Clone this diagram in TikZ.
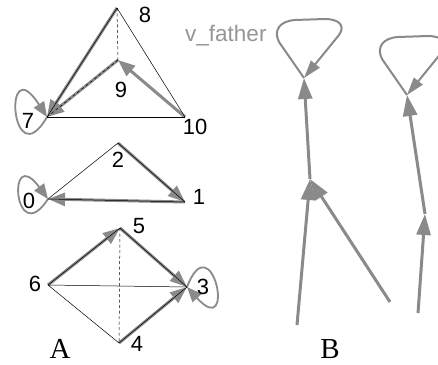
\documentclass[tikz,border=0pt]{standalone}
\usepackage{fontspec}
\setmainfont{Liberation Serif}
\newfontfamily\labfont{Liberation Sans}
\usetikzlibrary{arrows.meta}
\definecolor{eg}{RGB}{138,138,138}
\definecolor{vf}{RGB}{150,150,150}
\begin{document}
\begin{tikzpicture}[x=1pt,y=-1pt,
  lbl/.style={font=\labfont\fontsize{22}{22}\selectfont, inner sep=0pt},
  big/.style={font=\fontsize{29}{29}\selectfont, inner sep=0pt, anchor=base},
  thinedge/.style={draw=black, line width=0.5pt},
  dashedge/.style={draw=black, line width=0.5pt, dash pattern=on 3pt off 2.5pt},
  fa/.style={draw=eg, line width=3pt, -{Triangle[length=17pt,width=13pt]}},
  loopa/.style={draw=eg, line width=1.8pt, -{Triangle[length=15pt,width=12pt]}},
  fb/.style={draw=eg, line width=3pt, -{Triangle[length=21pt,width=14pt]}},
  loopb/.style={draw=eg, line width=2pt, -{Triangle[length=18pt,width=11pt]}},
]
\useasboundingbox (0,0) rectangle (438,364);
\clip (0,0) rectangle (438,364);
\fill[white] (0,0) rectangle (438,364);

% ---- part A vertices
\coordinate (v8) at (117,8);
\coordinate (v9) at (118,60);
\coordinate (v7) at (47,117);
\coordinate (v10) at (185,117);
\coordinate (v2) at (118,143);
\coordinate (v0) at (48,199);
\coordinate (v1) at (185,202);
\coordinate (v5) at (120,228);
\coordinate (v6) at (48,285);
\coordinate (v3) at (187,287);
\coordinate (v4) at (119,343);

% gray father arrows
\draw[fa] (v8) -- (v7);
\draw[fa] (v9) -- (v7);
\draw[fa] (v10) -- (v9);
\draw[loopa] (v7) .. controls +(-36,62) and +(-45,-70) .. (v7);

\draw[fa] (v2) -- (v1);
\draw[fa] (v1) -- (v0);
\draw[loopa] (v0) .. controls +(-34,52) and +(-42,-57) .. (v0);

\draw[fa] (v6) -- (v5);
\draw[fa] (v5) -- (v3);
\draw[fa] (v4) -- (v3);
\draw[loopa] (v3) .. controls +(25,-65) and +(50,55) .. (v3);

% graph edges
\draw[thinedge] (v8) -- (v7);
\draw[thinedge] (v8) -- (v10);
\draw[thinedge] (v7) -- (v10);
\draw[dashedge] (v8) -- (v9);
\draw[dashedge] (v9) -- (v7);

\draw[thinedge] (v2) -- (v0);
\draw[thinedge] (v2) -- (v1);
\draw[thinedge] (v1) -- (v0);

\draw[thinedge] (v6) -- (v5);
\draw[thinedge] (v5) -- (v3);
\draw[thinedge] (v6) -- (v3);
\draw[thinedge] (v6) -- (v4);
\draw[thinedge] (v4) -- (v3);
\draw[dashedge] (v5) -- (v4);

% labels
\node[lbl] (l8) at (145,15) {8};
\node[lbl] (l9) at (121,90) {9};
\node[lbl] (l7) at (28,121) {7};
\node[lbl] (l10) at (195,127) {10};
\node[lbl] (l2) at (118,160) {2};
\node[lbl] (l0) at (29,201) {0};
\node[lbl] (l1) at (199,197) {1};
\node[lbl] (l5) at (139,226) {5};
\node[lbl] (l6) at (35,284) {6};
\node[lbl] (l3) at (203,287) {3};
\node[lbl] (l4) at (137,344) {4};
\node[big] (lA) at (60,358) {A};
\node[big] (lB) at (330,358) {B};

% ---- part B
\node[anchor=base west, inner sep=0pt, text=vf, font=\labfont\fontsize{22.5}{22.5}\selectfont] (vfather) at (185,41) {v\_father};

\coordinate (N1) at (304,78);
\coordinate (M1) at (310,179);
\coordinate (L1) at (297,325);
\coordinate (R1) at (390,302);
\coordinate (N2) at (407,95);
\coordinate (M2) at (425,214);
\coordinate (L3) at (418,313);

\draw[fb] (L1) -- (M1);
\draw[fb] (R1) -- (M1);
\draw[fb] (M1) -- (N1);
\draw[fb] (L3) -- (M2);
\draw[fb] (M2) -- (N2);

\draw[loopb] (N1) -- (279,42) .. controls (273,30) and (280,21) .. (295,20) -- (325,19) .. controls (338,19) and (346,25) .. (339,35) -- (N1);
\draw[loopb] (N2) -- (382,59) .. controls (376,47) and (383,38) .. (398,37) -- (428,36) .. controls (441,36) and (449,42) .. (442,52) -- (N2);
\end{tikzpicture}
\end{document}
